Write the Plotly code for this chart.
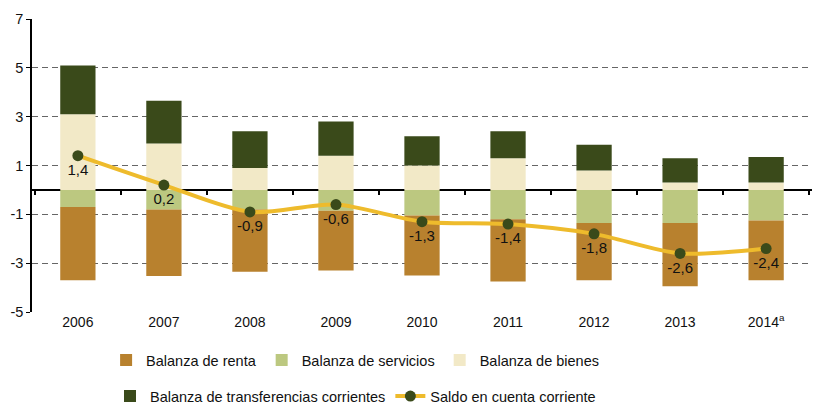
"""Balanza por cuenta corriente: componentes y saldo (% del PIB)."""

import plotly.graph_objects as go

# Data
years = ["2006", "2007", "2008", "2009", "2010", "2011", "2012", "2013", "2014<sup>a</sup>"]
renta = [-3.0, -2.73, -2.55, -2.45, -2.45, -2.55, -2.35, -2.6, -2.45]
servicios = [-0.7, -0.8, -0.8, -0.85, -1.05, -1.2, -1.35, -1.35, -1.25]
bienes = [3.1, 1.9, 0.9, 1.4, 1.0, 1.3, 0.8, 0.3, 0.3]
transferencias = [2.0, 1.75, 1.5, 1.4, 1.2, 1.1, 1.05, 1.0, 1.05]
saldo = [1.4, 0.2, -0.9, -0.6, -1.3, -1.4, -1.8, -2.6, -2.4]

y_ticks = [-5, -3, -1, 1, 3, 5, 7]
y_min, y_max = -5, 7

FONT = "Liberation Sans, Arial, sans-serif"
BAR_W = 0.41

fig = go.Figure()

# Negative parts first (servicios nearest zero), then positive parts
fig.add_trace(go.Bar(x=years, y=servicios, name="Balanza de servicios", width=BAR_W,
                     marker=dict(color="#BCC880", line_width=0),
                     legend="legend", legendrank=2))
fig.add_trace(go.Bar(x=years, y=renta, name="Balanza de renta", width=BAR_W,
                     marker=dict(color="#B8812E", line_width=0),
                     legend="legend", legendrank=1))
fig.add_trace(go.Bar(x=years, y=bienes, name="Balanza de bienes", width=BAR_W,
                     marker=dict(color="#F2E9C7", line_width=0),
                     legend="legend", legendrank=3))
fig.add_trace(go.Bar(x=years, y=transferencias, name="Balanza de transferencias corrientes",
                     width=BAR_W, marker=dict(color="#3A4A1A", line_width=0),
                     legend="legend2", legendrank=1))

fig.add_trace(go.Scatter(
    x=years, y=saldo, name="Saldo en cuenta corriente",
    mode="lines+markers+text",
    line=dict(color="#EEBB2C", width=4, shape="spline", smoothing=0.8),
    marker=dict(color="#3A4A1A", size=11),
    text=[f"{v:.1f}".replace(".", ",") for v in saldo],
    textposition="bottom center",
    textfont=dict(size=15, color="#111111", family=FONT),
    legend="legend2", legendrank=2,
))

# invisible helper trace so the zero-line tick axis gets drawn
fig.add_trace(go.Scatter(
    x=years, y=saldo, xaxis="x2", mode="markers",
    marker=dict(opacity=0), showlegend=False, hoverinfo="skip",
))

legend_style = dict(orientation="h", xanchor="left", yanchor="middle",
                    font=dict(size=14.5, color="#111111", family=FONT),
                    bgcolor="rgba(0,0,0,0)", traceorder="normal")

fig.update_layout(
    barmode="relative",
    width=813, height=406,
    margin=dict(l=32, r=1, t=19, b=94, autoexpand=False),
    plot_bgcolor="white", paper_bgcolor="white",
    font=dict(family=FONT, size=14, color="#111111"),
    showlegend=True,
    legend=dict(x=0.095, y=-0.164, **legend_style),
    legend2=dict(x=0.1, y=-0.287, **legend_style),
    # extra axis only to draw the small category ticks on the zero line
    xaxis2=dict(matches="x", overlaying="x", anchor="free",
                position=(0 - y_min) / (y_max - y_min),
                showticklabels=False, ticks="outside", tickson="boundaries",
                ticklen=4, tickcolor="#000000", tickwidth=1.5,
                showgrid=False, showline=False, zeroline=False),
)

fig.update_xaxes(
    selector=dict(anchor="y"),
    showgrid=False, showline=False, ticks="", automargin=False,
    tickfont=dict(size=14.5, family=FONT, color="#111111"),
)
fig.update_yaxes(
    range=[y_min, y_max], tickvals=y_ticks,
    ticktext=[str(v) for v in y_ticks], automargin=False,
    showgrid=True, gridcolor="#666666", griddash="6px,4px", gridwidth=1,
    zeroline=True, zerolinecolor="#000000", zerolinewidth=1.5,
    showline=True, linecolor="#000000", linewidth=1.5,
    ticks="outside", ticklen=4, tickcolor="#000000",
    tickfont=dict(size=14.5, family=FONT, color="#111111"),
)

# drop the page's default body margin so the figure sits at the top-left corner
fig.write_html("out.html", config={"displayModeBar": False},
               post_script="document.body.style.margin = '0';")
